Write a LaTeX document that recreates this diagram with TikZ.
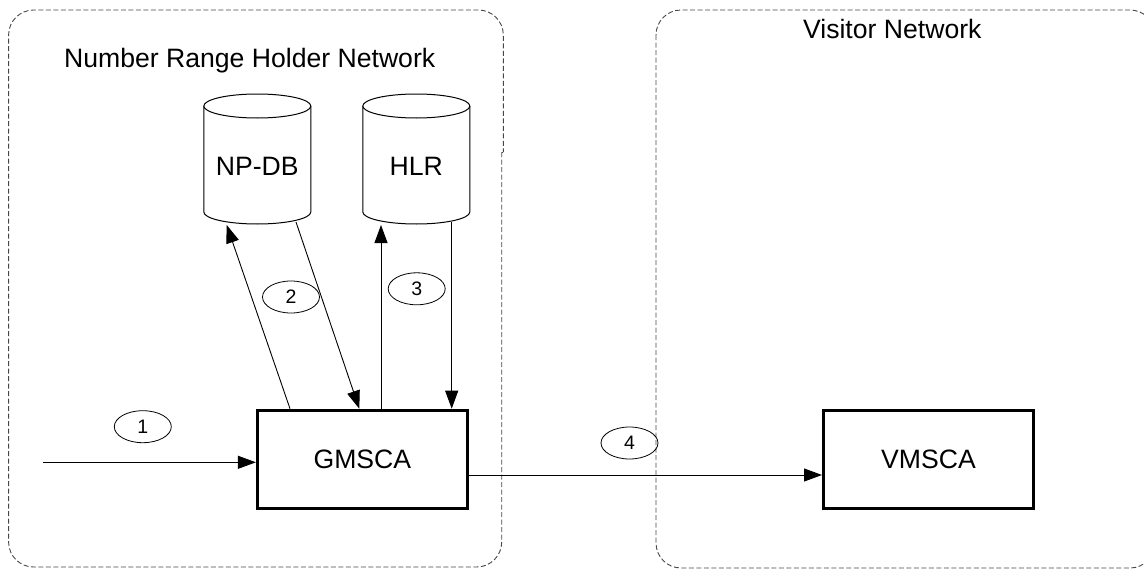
\documentclass[tikz,border=0pt]{standalone}
\usepackage{fontspec}
\setmainfont{Liberation Sans}
\usetikzlibrary{arrows.meta,calc,shapes.geometric}

% database cylinder: centre x, top-ellipse centre y, bottom-ellipse centre y
\newcommand\dbcylinder[3]{%
  \draw[dbline] ({#1-53.5},#2) -- ({#1-53.5},#3)
    arc[start angle=180,end angle=0,x radius=53.5,y radius=12]
    -- ({#1+53.5},#2);
  \draw[dbline] (#1,#2) ellipse[x radius=53.5,y radius=12];
}

\begin{document}
\begin{tikzpicture}[x=1pt,y=-1pt,
  region/.style={draw=black!72,line width=0.9pt,dash pattern=on 5pt off 2.5pt},
  title/.style={font=\fontsize{26.6}{30}\selectfont,inner sep=0pt},
  box/.style={draw,line width=3pt,minimum width=210pt,minimum height=98pt,
    inner sep=0pt,font=\fontsize{26.6}{30}\selectfont},
  dbnode/.style={minimum width=107pt,minimum height=130pt,inner sep=0pt,outer sep=0pt},
  dbline/.style={draw,fill=white,line width=1pt},
  dbtext/.style={font=\fontsize{26.6}{30}\selectfont,inner sep=0pt},
  num/.style={ellipse,draw,line width=0.8pt,minimum width=57pt,minimum height=32pt,
    inner sep=0pt,font=\fontsize{19.5}{21}\selectfont},
  conn/.style={line width=0.9pt,-{Triangle[length=18pt,width=13pt]}}
]
\useasboundingbox (0,0) rectangle (1144,570);
\clip (0,0) rectangle (1144,570);

% network boundaries
\draw[region,rounded corners=25pt] (501.7,152) -- (501.7,567) -- (8.6,567)
  -- (8.6,10) -- (503.3,10) -- (503.3,152);
\draw[region] (503.3,152) -- (501.7,152);
\draw[region,rounded corners=25pt] (656,10) rectangle (1155,568);

\node[title,anchor=base west] (nrhn) at (64,67) {Number Range Holder Network};
\node[title,anchor=base] (vn) at (892.3,38) {Visitor Network};

% databases
\dbcylinder{257.3}{106}{212}
\dbcylinder{416.3}{106}{212}
\node[dbnode] (np) at (257.3,159) {};
\node[dbnode] (hlr) at (416.3,159) {};
\node[dbtext] (nptext) at (257.3,166) {NP-DB};
\node[dbtext] (hlrtext) at (416.3,166) {HLR};

% switching centres
\node[box] (gm) at (362.4,459.2) {GMSCA};
\node[box] (vm) at (928.5,459.2) {VMSCA};

% signalling flows
\coordinate (in) at (43,462.3);
\draw[conn] (in) -- (gm.west |- in);
\draw[conn] ($(gm.north)+(-72.4,0)$) -- ($(np.south)+(-30.6,1)$);
\draw[conn] ($(np.south)+(38.7,-2)$) -- ($(gm.north)+(-3.1,0)$);
\draw[conn] ($(gm.north)+(18.6,0)$) -- ($(hlr.south)+(-35.3,1)$);
\draw[conn] ($(hlr.south)+(35.4,-2)$) -- ($(gm.north)+(89.3,0)$);
\draw[conn] ($(gm.east)+(0,15.8)$) -- ($(vm.west)+(0,15.8)$);

% step numbers
\node[num] (s1) at (142.8,426.7) {1};
\node[num] (s2) at (291,297) {2};
\node[num] (s3) at (416.7,288.8) {3};
\node[num] (s4) at (629.5,443) {4};
\end{tikzpicture}
\end{document}
